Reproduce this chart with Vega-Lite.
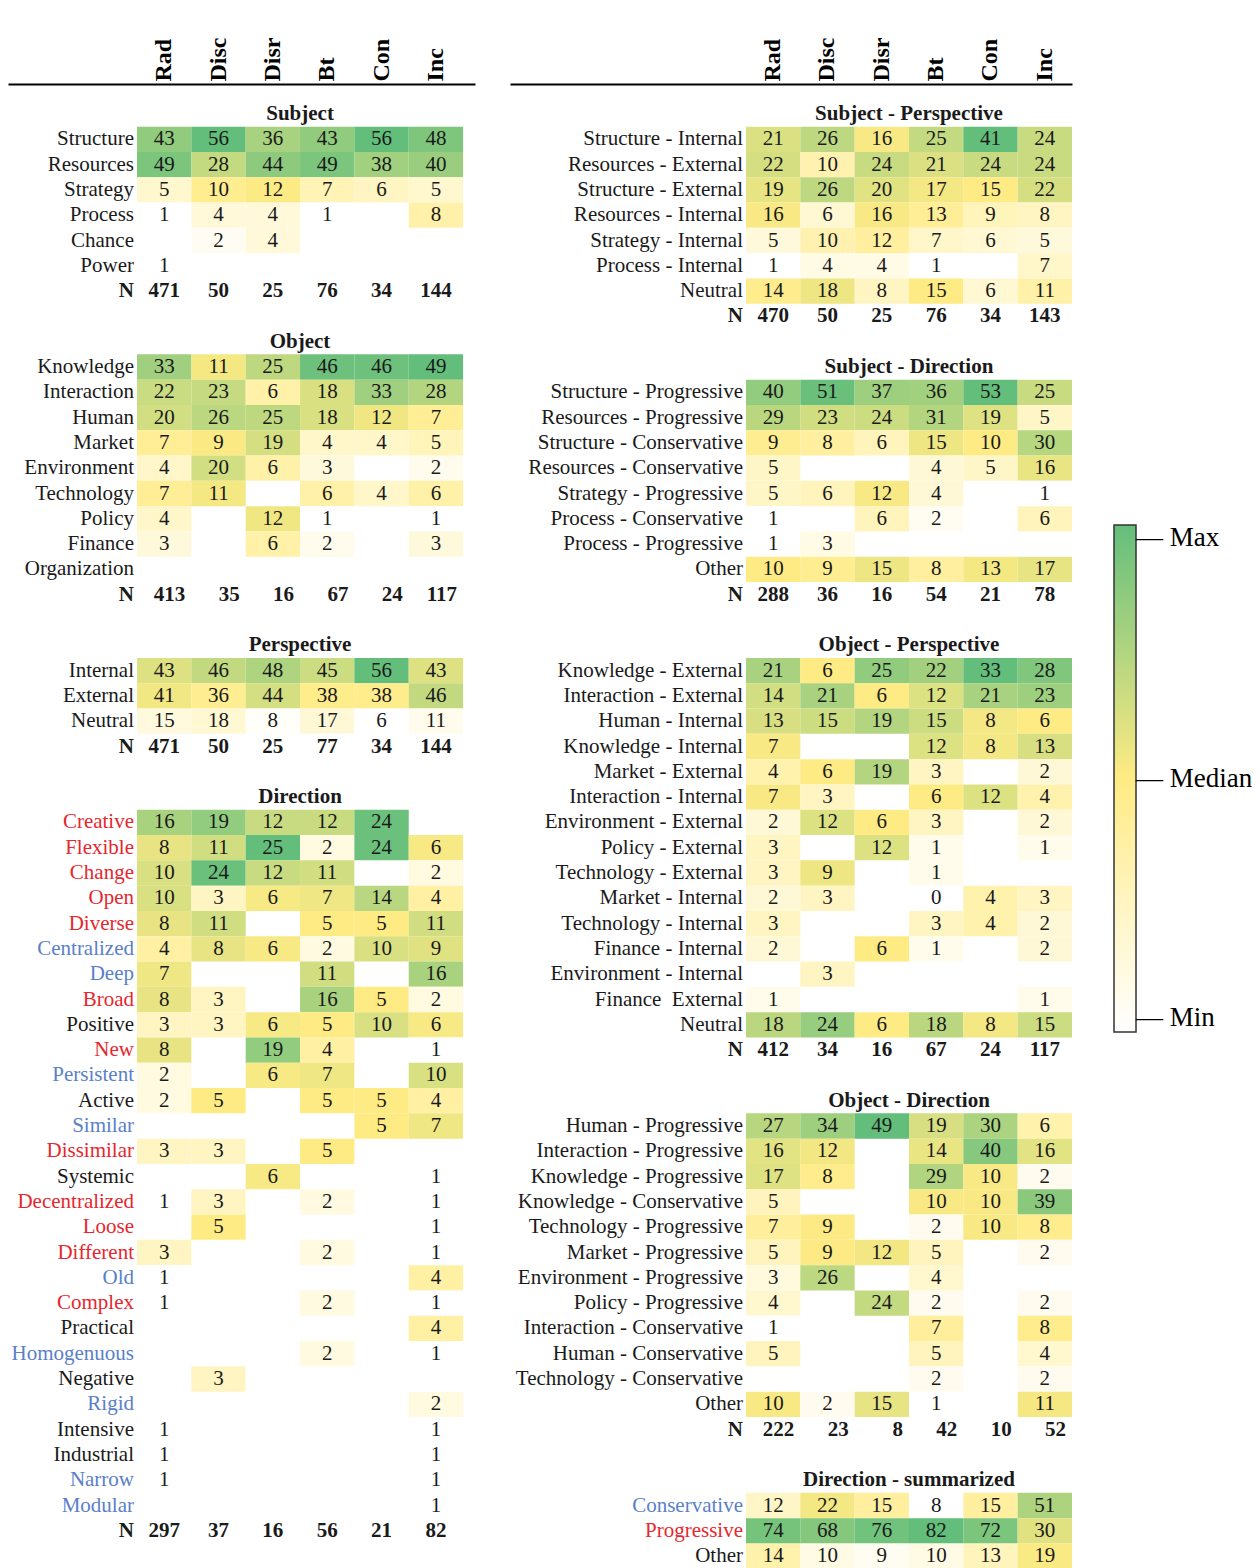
{
"$schema":"https://vega.github.io/schema/vega-lite/v6.json",
"background":"white",
"padding":{"left":8,"top":37,"right":0,"bottom":0},
"spacing":35,
"config":{"view":{"stroke":null},"font":"Liberation Serif","text":{"font":"Liberation Serif"}},
"datasets":{
"tab":[
{"s":"Subject","r":"Structure","Rad":43,"Disc":56,"Disr":36,"Bt":43,"Con":56,"Inc":48},
{"s":"Subject","r":"Resources","Rad":49,"Disc":28,"Disr":44,"Bt":49,"Con":38,"Inc":40},
{"s":"Subject","r":"Strategy","Rad":5,"Disc":10,"Disr":12,"Bt":7,"Con":6,"Inc":5},
{"s":"Subject","r":"Process","Rad":1,"Disc":4,"Disr":4,"Bt":1,"Con":null,"Inc":8},
{"s":"Subject","r":"Chance","Rad":null,"Disc":2,"Disr":4,"Bt":null,"Con":null,"Inc":null},
{"s":"Subject","r":"Power","Rad":1,"Disc":null,"Disr":null,"Bt":null,"Con":null,"Inc":null},
{"s":"Subject","r":"N","Rad":471,"Disc":50,"Disr":25,"Bt":76,"Con":34,"Inc":144},
{"s":"Object","r":"Knowledge","Rad":33,"Disc":11,"Disr":25,"Bt":46,"Con":46,"Inc":49},
{"s":"Object","r":"Interaction","Rad":22,"Disc":23,"Disr":6,"Bt":18,"Con":33,"Inc":28},
{"s":"Object","r":"Human","Rad":20,"Disc":26,"Disr":25,"Bt":18,"Con":12,"Inc":7},
{"s":"Object","r":"Market","Rad":7,"Disc":9,"Disr":19,"Bt":4,"Con":4,"Inc":5},
{"s":"Object","r":"Environment","Rad":4,"Disc":20,"Disr":6,"Bt":3,"Con":null,"Inc":2},
{"s":"Object","r":"Technology","Rad":7,"Disc":11,"Disr":null,"Bt":6,"Con":4,"Inc":6},
{"s":"Object","r":"Policy","Rad":4,"Disc":null,"Disr":12,"Bt":1,"Con":null,"Inc":1},
{"s":"Object","r":"Finance","Rad":3,"Disc":null,"Disr":6,"Bt":2,"Con":null,"Inc":3},
{"s":"Object","r":"Organization","Rad":null,"Disc":null,"Disr":null,"Bt":null,"Con":null,"Inc":null},
{"s":"Object","r":"N","Rad":413,"Disc":35,"Disr":16,"Bt":67,"Con":24,"Inc":117},
{"s":"Perspective","r":"Internal","Rad":43,"Disc":46,"Disr":48,"Bt":45,"Con":56,"Inc":43},
{"s":"Perspective","r":"External","Rad":41,"Disc":36,"Disr":44,"Bt":38,"Con":38,"Inc":46},
{"s":"Perspective","r":"Neutral","Rad":15,"Disc":18,"Disr":8,"Bt":17,"Con":6,"Inc":11},
{"s":"Perspective","r":"N","Rad":471,"Disc":50,"Disr":25,"Bt":77,"Con":34,"Inc":144},
{"s":"Direction","r":"Creative","d":"P","Rad":16,"Disc":19,"Disr":12,"Bt":12,"Con":24,"Inc":null},
{"s":"Direction","r":"Flexible","d":"P","Rad":8,"Disc":11,"Disr":25,"Bt":2,"Con":24,"Inc":6},
{"s":"Direction","r":"Change","d":"P","Rad":10,"Disc":24,"Disr":12,"Bt":11,"Con":null,"Inc":2},
{"s":"Direction","r":"Open","d":"P","Rad":10,"Disc":3,"Disr":6,"Bt":7,"Con":14,"Inc":4},
{"s":"Direction","r":"Diverse","d":"P","Rad":8,"Disc":11,"Disr":null,"Bt":5,"Con":5,"Inc":11},
{"s":"Direction","r":"Centralized","d":"C","Rad":4,"Disc":8,"Disr":6,"Bt":2,"Con":10,"Inc":9},
{"s":"Direction","r":"Deep","d":"C","Rad":7,"Disc":null,"Disr":null,"Bt":11,"Con":null,"Inc":16},
{"s":"Direction","r":"Broad","d":"P","Rad":8,"Disc":3,"Disr":null,"Bt":16,"Con":5,"Inc":2},
{"s":"Direction","r":"Positive","d":"O","Rad":3,"Disc":3,"Disr":6,"Bt":5,"Con":10,"Inc":6},
{"s":"Direction","r":"New","d":"P","Rad":8,"Disc":null,"Disr":19,"Bt":4,"Con":null,"Inc":1},
{"s":"Direction","r":"Persistent","d":"C","Rad":2,"Disc":null,"Disr":6,"Bt":7,"Con":null,"Inc":10},
{"s":"Direction","r":"Active","d":"O","Rad":2,"Disc":5,"Disr":null,"Bt":5,"Con":5,"Inc":4},
{"s":"Direction","r":"Similar","d":"C","Rad":null,"Disc":null,"Disr":null,"Bt":null,"Con":5,"Inc":7},
{"s":"Direction","r":"Dissimilar","d":"P","Rad":3,"Disc":3,"Disr":null,"Bt":5,"Con":null,"Inc":null},
{"s":"Direction","r":"Systemic","d":"O","Rad":null,"Disc":null,"Disr":6,"Bt":null,"Con":null,"Inc":1},
{"s":"Direction","r":"Decentralized","d":"P","Rad":1,"Disc":3,"Disr":null,"Bt":2,"Con":null,"Inc":1},
{"s":"Direction","r":"Loose","d":"P","Rad":null,"Disc":5,"Disr":null,"Bt":null,"Con":null,"Inc":1},
{"s":"Direction","r":"Different","d":"P","Rad":3,"Disc":null,"Disr":null,"Bt":2,"Con":null,"Inc":1},
{"s":"Direction","r":"Old","d":"C","Rad":1,"Disc":null,"Disr":null,"Bt":null,"Con":null,"Inc":4},
{"s":"Direction","r":"Complex","d":"P","Rad":1,"Disc":null,"Disr":null,"Bt":2,"Con":null,"Inc":1},
{"s":"Direction","r":"Practical","d":"O","Rad":null,"Disc":null,"Disr":null,"Bt":null,"Con":null,"Inc":4},
{"s":"Direction","r":"Homogenuous","d":"C","Rad":null,"Disc":null,"Disr":null,"Bt":2,"Con":null,"Inc":1},
{"s":"Direction","r":"Negative","d":"O","Rad":null,"Disc":3,"Disr":null,"Bt":null,"Con":null,"Inc":null},
{"s":"Direction","r":"Rigid","d":"C","Rad":null,"Disc":null,"Disr":null,"Bt":null,"Con":null,"Inc":2},
{"s":"Direction","r":"Intensive","d":"O","Rad":1,"Disc":null,"Disr":null,"Bt":null,"Con":null,"Inc":1},
{"s":"Direction","r":"Industrial","d":"O","Rad":1,"Disc":null,"Disr":null,"Bt":null,"Con":null,"Inc":1},
{"s":"Direction","r":"Narrow","d":"C","Rad":1,"Disc":null,"Disr":null,"Bt":null,"Con":null,"Inc":1},
{"s":"Direction","r":"Modular","d":"C","Rad":null,"Disc":null,"Disr":null,"Bt":null,"Con":null,"Inc":1},
{"s":"Direction","r":"N","Rad":297,"Disc":37,"Disr":16,"Bt":56,"Con":21,"Inc":82},
{"s":"Subject - Perspective","r":"Structure - Internal","Rad":21,"Disc":26,"Disr":16,"Bt":25,"Con":41,"Inc":24},
{"s":"Subject - Perspective","r":"Resources - External","Rad":22,"Disc":10,"Disr":24,"Bt":21,"Con":24,"Inc":24},
{"s":"Subject - Perspective","r":"Structure - External","Rad":19,"Disc":26,"Disr":20,"Bt":17,"Con":15,"Inc":22},
{"s":"Subject - Perspective","r":"Resources - Internal","Rad":16,"Disc":6,"Disr":16,"Bt":13,"Con":9,"Inc":8},
{"s":"Subject - Perspective","r":"Strategy - Internal","Rad":5,"Disc":10,"Disr":12,"Bt":7,"Con":6,"Inc":5},
{"s":"Subject - Perspective","r":"Process - Internal","Rad":1,"Disc":4,"Disr":4,"Bt":1,"Con":null,"Inc":7},
{"s":"Subject - Perspective","r":"Neutral","Rad":14,"Disc":18,"Disr":8,"Bt":15,"Con":6,"Inc":11},
{"s":"Subject - Perspective","r":"N","Rad":470,"Disc":50,"Disr":25,"Bt":76,"Con":34,"Inc":143},
{"s":"Subject - Direction","r":"Structure - Progressive","Rad":40,"Disc":51,"Disr":37,"Bt":36,"Con":53,"Inc":25},
{"s":"Subject - Direction","r":"Resources - Progressive","Rad":29,"Disc":23,"Disr":24,"Bt":31,"Con":19,"Inc":5},
{"s":"Subject - Direction","r":"Structure - Conservative","Rad":9,"Disc":8,"Disr":6,"Bt":15,"Con":10,"Inc":30},
{"s":"Subject - Direction","r":"Resources - Conservative","Rad":5,"Disc":null,"Disr":null,"Bt":4,"Con":5,"Inc":16},
{"s":"Subject - Direction","r":"Strategy - Progressive","Rad":5,"Disc":6,"Disr":12,"Bt":4,"Con":null,"Inc":1},
{"s":"Subject - Direction","r":"Process - Conservative","Rad":1,"Disc":null,"Disr":6,"Bt":2,"Con":null,"Inc":6},
{"s":"Subject - Direction","r":"Process - Progressive","Rad":1,"Disc":3,"Disr":null,"Bt":null,"Con":null,"Inc":null},
{"s":"Subject - Direction","r":"Other","Rad":10,"Disc":9,"Disr":15,"Bt":8,"Con":13,"Inc":17},
{"s":"Subject - Direction","r":"N","Rad":288,"Disc":36,"Disr":16,"Bt":54,"Con":21,"Inc":78},
{"s":"Object - Perspective","r":"Knowledge - External","Rad":21,"Disc":6,"Disr":25,"Bt":22,"Con":33,"Inc":28},
{"s":"Object - Perspective","r":"Interaction - External","Rad":14,"Disc":21,"Disr":6,"Bt":12,"Con":21,"Inc":23},
{"s":"Object - Perspective","r":"Human - Internal","Rad":13,"Disc":15,"Disr":19,"Bt":15,"Con":8,"Inc":6},
{"s":"Object - Perspective","r":"Knowledge - Internal","Rad":7,"Disc":null,"Disr":null,"Bt":12,"Con":8,"Inc":13},
{"s":"Object - Perspective","r":"Market - External","Rad":4,"Disc":6,"Disr":19,"Bt":3,"Con":null,"Inc":2},
{"s":"Object - Perspective","r":"Interaction - Internal","Rad":7,"Disc":3,"Disr":null,"Bt":6,"Con":12,"Inc":4},
{"s":"Object - Perspective","r":"Environment - External","Rad":2,"Disc":12,"Disr":6,"Bt":3,"Con":null,"Inc":2},
{"s":"Object - Perspective","r":"Policy - External","Rad":3,"Disc":null,"Disr":12,"Bt":1,"Con":null,"Inc":1},
{"s":"Object - Perspective","r":"Technology - External","Rad":3,"Disc":9,"Disr":null,"Bt":1,"Con":null,"Inc":null},
{"s":"Object - Perspective","r":"Market - Internal","Rad":2,"Disc":3,"Disr":null,"Bt":0,"Con":4,"Inc":3},
{"s":"Object - Perspective","r":"Technology - Internal","Rad":3,"Disc":null,"Disr":null,"Bt":3,"Con":4,"Inc":2},
{"s":"Object - Perspective","r":"Finance - Internal","Rad":2,"Disc":null,"Disr":6,"Bt":1,"Con":null,"Inc":2},
{"s":"Object - Perspective","r":"Environment - Internal","Rad":null,"Disc":3,"Disr":null,"Bt":null,"Con":null,"Inc":null},
{"s":"Object - Perspective","r":"Finance \u00a0External","Rad":1,"Disc":null,"Disr":null,"Bt":null,"Con":null,"Inc":1},
{"s":"Object - Perspective","r":"Neutral","Rad":18,"Disc":24,"Disr":6,"Bt":18,"Con":8,"Inc":15},
{"s":"Object - Perspective","r":"N","Rad":412,"Disc":34,"Disr":16,"Bt":67,"Con":24,"Inc":117},
{"s":"Object - Direction","r":"Human - Progressive","Rad":27,"Disc":34,"Disr":49,"Bt":19,"Con":30,"Inc":6},
{"s":"Object - Direction","r":"Interaction - Progressive","Rad":16,"Disc":12,"Disr":null,"Bt":14,"Con":40,"Inc":16},
{"s":"Object - Direction","r":"Knowledge - Progressive","Rad":17,"Disc":8,"Disr":null,"Bt":29,"Con":10,"Inc":2},
{"s":"Object - Direction","r":"Knowledge - Conservative","Rad":5,"Disc":null,"Disr":null,"Bt":10,"Con":10,"Inc":39},
{"s":"Object - Direction","r":"Technology - Progressive","Rad":7,"Disc":9,"Disr":null,"Bt":2,"Con":10,"Inc":8},
{"s":"Object - Direction","r":"Market - Progressive","Rad":5,"Disc":9,"Disr":12,"Bt":5,"Con":null,"Inc":2},
{"s":"Object - Direction","r":"Environment - Progressive","Rad":3,"Disc":26,"Disr":null,"Bt":4,"Con":null,"Inc":null},
{"s":"Object - Direction","r":"Policy - Progressive","Rad":4,"Disc":null,"Disr":24,"Bt":2,"Con":null,"Inc":2},
{"s":"Object - Direction","r":"Interaction - Conservative","Rad":1,"Disc":null,"Disr":null,"Bt":7,"Con":null,"Inc":8},
{"s":"Object - Direction","r":"Human - Conservative","Rad":5,"Disc":null,"Disr":null,"Bt":5,"Con":null,"Inc":4},
{"s":"Object - Direction","r":"Technology - Conservative","Rad":null,"Disc":null,"Disr":null,"Bt":2,"Con":null,"Inc":2},
{"s":"Object - Direction","r":"Other","Rad":10,"Disc":2,"Disr":15,"Bt":1,"Con":null,"Inc":11},
{"s":"Object - Direction","r":"N","Rad":222,"Disc":23,"Disr":8,"Bt":42,"Con":10,"Inc":52},
{"s":"Direction - summarized","r":"Conservative","d":"C","Rad":12,"Disc":22,"Disr":15,"Bt":8,"Con":15,"Inc":51},
{"s":"Direction - summarized","r":"Progressive","d":"P","Rad":74,"Disc":68,"Disr":76,"Bt":82,"Con":72,"Inc":30},
{"s":"Direction - summarized","r":"Other","d":"O","Rad":14,"Disc":10,"Disr":9,"Bt":10,"Con":13,"Inc":19}
],
"titles":[
{"s":"Subject"},{"s":"Object"},{"s":"Perspective"},{"s":"Direction"},
{"s":"Subject - Perspective"},{"s":"Subject - Direction"},{"s":"Object - Perspective"},{"s":"Object - Direction"},{"s":"Direction - summarized"}
]
},
"hconcat":[
{
"width":467,"height":1484.75,
"layer":[
{
"data":{"name":"tab"},
"transform":[
{"filter":{"field":"s","oneOf":["Subject","Object","Perspective","Direction"]}},
{"filter":"datum.r !== 'N'"},
{"fold":["Rad","Disc","Disr","Bt","Con","Inc"],"as":["c","v"]},
{"filter":"isValid(datum.v)"},
{"joinaggregate":[{"op":"min","field":"v","as":"lo"},{"op":"median","field":"v","as":"mid"},{"op":"max","field":"v","as":"hi"}],"groupby":["s"]},
{"calculate":"datum.v <= datum.mid ? (datum.mid > datum.lo ? 0.5*(datum.v-datum.lo)/(datum.mid-datum.lo) : 0.5) : (datum.hi > datum.mid ? 0.5+0.5*(datum.v-datum.mid)/(datum.hi-datum.mid) : 1)","as":"t"},
{"calculate":"datum.s + '|' + datum.r","as":"key"}
],
"mark":{"type":"rect"},
"encoding":{
"x":{"field":"c","type":"nominal","scale":{"type":"band","domain":["_a","_b","Rad","Disc","Disr","Bt","Con","Inc"],"paddingInner":0,"paddingOuter":0.297,"align":0.63},
"axis":{"orient":"top","values":["Rad","Disc","Disr","Bt","Con","Inc"],"labelAngle":270,"labelFont":"Liberation Serif","labelFontWeight":"bold","labelFontSize":24,"labelColor":"black","labelAlign":"left","labelBaseline":"middle","labelPadding":3,"ticks":false,"domain":true,"domainColor":"black","domainWidth":2,"title":null,"grid":false,"labelOverlap":false}},
"y":{"field":"key","type":"nominal","axis":null,"scale":{"type":"band","paddingInner":0,"paddingOuter":0.343,"align":1,"domain":["Subject|#","Subject|Structure","Subject|Resources","Subject|Strategy","Subject|Process","Subject|Chance","Subject|Power","Subject|N","_1","Object|#","Object|Knowledge","Object|Interaction","Object|Human","Object|Market","Object|Environment","Object|Technology","Object|Policy","Object|Finance","Object|Organization","Object|N","_2","Perspective|#","Perspective|Internal","Perspective|External","Perspective|Neutral","Perspective|N","_3","Direction|#","Direction|Creative","Direction|Flexible","Direction|Change","Direction|Open","Direction|Diverse","Direction|Centralized","Direction|Deep","Direction|Broad","Direction|Positive","Direction|New","Direction|Persistent","Direction|Active","Direction|Similar","Direction|Dissimilar","Direction|Systemic","Direction|Decentralized","Direction|Loose","Direction|Different","Direction|Old","Direction|Complex","Direction|Practical","Direction|Homogenuous","Direction|Negative","Direction|Rigid","Direction|Intensive","Direction|Industrial","Direction|Narrow","Direction|Modular","Direction|N","_4"]}},
"color":{"field":"t","type":"quantitative","scale":{"domain":[0,0.5,1],"range":["#FFFFFF","#FFEB84","#63BE7B"],"interpolate":"rgb"},
"legend":{"orient":"none","legendX":1106,"legendY":441,"direction":"vertical","title":null,"gradientLength":507,"gradientThickness":22,"gradientStrokeColor":"#333333","gradientStrokeWidth":1.5,"values":[0,0.5,1],"labelExpr":"datum.value >= 1 ? '— Max' : datum.value > 0 ? '— Median' : '— Min'","labelFont":"Liberation Serif","labelFontSize":27,"labelColor":"black","labelOffset":0,"labelBaseline":"middle","labelOverlap":false}}
}
},
{
"data":{"name":"tab"},
"transform":[
{"filter":{"field":"s","oneOf":["Subject","Object","Perspective","Direction"]}},
{"filter":"datum.r !== 'N'"},
{"fold":["Rad","Disc","Disr","Bt","Con","Inc"],"as":["c","v"]},
{"filter":"isValid(datum.v)"},
{"calculate":"datum.s + '|' + datum.r","as":"key"}
],
"mark":{"type":"text","fontSize":21,"color":"#1a1a1a","baseline":"middle","align":"center"},
"encoding":{
"x":{"field":"c","type":"nominal","scale":{"type":"band"}},
"y":{"field":"key","type":"nominal"},
"text":{"field":"v","type":"quantitative"}
}
},
{
"data":{"name":"tab"},
"transform":[
{"filter":{"field":"s","oneOf":["Subject","Perspective","Direction"]}},
{"filter":"datum.r === 'N'"},
{"fold":["Rad","Disc","Disr","Bt","Con","Inc"],"as":["c","v"]},
{"calculate":"datum.s + '|' + datum.r","as":"key"}
],
"mark":{"type":"text","fontSize":21,"fontWeight":"bold","color":"#1a1a1a","baseline":"middle","align":"center"},
"encoding":{
"x":{"field":"c","type":"nominal","scale":{"type":"band"}},
"y":{"field":"key","type":"nominal"},
"text":{"field":"v","type":"quantitative"}
}
},
{
"data":{"name":"tab"},
"transform":[
{"filter":{"field":"s","oneOf":["Object"]}},
{"filter":"datum.r === 'N'"},
{"fold":["Rad","Disc","Disr","Bt","Con","Inc"],"as":["c","v"]},
{"calculate":"datum.s + '|' + datum.r","as":"key"}
],
"mark":{"type":"text","fontSize":21,"fontWeight":"bold","color":"#1a1a1a","baseline":"middle","align":"right","dx":-6},
"encoding":{
"x":{"field":"c","type":"nominal","scale":{"type":"band"},"bandPosition":1},
"y":{"field":"key","type":"nominal"},
"text":{"field":"v","type":"quantitative"}
}
},
{
"data":{"name":"tab"},
"transform":[
{"filter":{"field":"s","oneOf":["Subject","Object","Perspective","Direction"]}},
{"filter":"datum.r !== 'N'"},
{"calculate":"datum.s + '|' + datum.r","as":"key"}
],
"mark":{"type":"text","fontSize":21,"baseline":"middle","align":"right","dx":-3},
"encoding":{
"x":{"datum":"Rad","type":"nominal","bandPosition":0},
"y":{"field":"key","type":"nominal"},
"text":{"field":"r"},
"color":{"condition":[{"test":"datum.d === 'P'","value":"#e8262d"},{"test":"datum.d === 'C'","value":"#5a80c8"}],"value":"#1a1a1a"}
}
},
{
"data":{"name":"tab"},
"transform":[
{"filter":{"field":"s","oneOf":["Subject","Object","Perspective","Direction"]}},
{"filter":"datum.r === 'N'"},
{"calculate":"datum.s + '|' + datum.r","as":"key"}
],
"mark":{"type":"text","fontSize":21,"fontWeight":"bold","color":"#1a1a1a","baseline":"middle","align":"right","dx":-3},
"encoding":{
"x":{"datum":"Rad","type":"nominal","bandPosition":0},
"y":{"field":"key","type":"nominal"},
"text":{"field":"r"}
}
},
{
"data":{"name":"titles"},
"transform":[
{"filter":{"field":"s","oneOf":["Subject","Object","Perspective","Direction"]}},
{"calculate":"datum.s + '|#'","as":"key"}
],
"mark":{"type":"text","fontSize":21,"fontWeight":"bold","color":"#1a1a1a","baseline":"middle","align":"center"},
"encoding":{
"x":{"datum":"Bt","type":"nominal","bandPosition":0},
"y":{"field":"key","type":"nominal"},
"text":{"field":"s"}
}
}
]
},
{
"width":562,"height":1484.75,
"layer":[
{
"data":{"name":"tab"},
"transform":[
{"filter":{"field":"s","oneOf":["Subject - Perspective","Subject - Direction","Object - Perspective","Object - Direction","Direction - summarized"]}},
{"filter":"datum.r !== 'N'"},
{"fold":["Rad","Disc","Disr","Bt","Con","Inc"],"as":["c","v"]},
{"filter":"isValid(datum.v)"},
{"joinaggregate":[{"op":"min","field":"v","as":"lo"},{"op":"median","field":"v","as":"mid"},{"op":"max","field":"v","as":"hi"}],"groupby":["s"]},
{"calculate":"datum.v <= datum.mid ? (datum.mid > datum.lo ? 0.5*(datum.v-datum.lo)/(datum.mid-datum.lo) : 0.5) : (datum.hi > datum.mid ? 0.5+0.5*(datum.v-datum.mid)/(datum.hi-datum.mid) : 1)","as":"t"},
{"calculate":"datum.s + '|' + datum.r","as":"key"}
],
"mark":{"type":"rect"},
"encoding":{
"x":{"field":"c","type":"nominal","scale":{"type":"band","domain":["_a","_b","_c","_d","Rad","Disc","Disr","Bt","Con","Inc"],"paddingInner":0,"paddingOuter":0.1715,"align":1},
"axis":{"orient":"top","values":["Rad","Disc","Disr","Bt","Con","Inc"],"labelAngle":270,"labelFont":"Liberation Serif","labelFontWeight":"bold","labelFontSize":24,"labelColor":"black","labelAlign":"left","labelBaseline":"middle","labelPadding":3,"ticks":false,"domain":true,"domainColor":"black","domainWidth":2,"title":null,"grid":false,"labelOverlap":false}},
"y":{"field":"key","type":"nominal","axis":null,"scale":{"type":"band","paddingInner":0,"paddingOuter":0.343,"align":1,"domain":["Subject - Perspective|#","Subject - Perspective|Structure - Internal","Subject - Perspective|Resources - External","Subject - Perspective|Structure - External","Subject - Perspective|Resources - Internal","Subject - Perspective|Strategy - Internal","Subject - Perspective|Process - Internal","Subject - Perspective|Neutral","Subject - Perspective|N","_1","Subject - Direction|#","Subject - Direction|Structure - Progressive","Subject - Direction|Resources - Progressive","Subject - Direction|Structure - Conservative","Subject - Direction|Resources - Conservative","Subject - Direction|Strategy - Progressive","Subject - Direction|Process - Conservative","Subject - Direction|Process - Progressive","Subject - Direction|Other","Subject - Direction|N","_2","Object - Perspective|#","Object - Perspective|Knowledge - External","Object - Perspective|Interaction - External","Object - Perspective|Human - Internal","Object - Perspective|Knowledge - Internal","Object - Perspective|Market - External","Object - Perspective|Interaction - Internal","Object - Perspective|Environment - External","Object - Perspective|Policy - External","Object - Perspective|Technology - External","Object - Perspective|Market - Internal","Object - Perspective|Technology - Internal","Object - Perspective|Finance - Internal","Object - Perspective|Environment - Internal","Object - Perspective|Finance \u00a0External","Object - Perspective|Neutral","Object - Perspective|N","_3","Object - Direction|#","Object - Direction|Human - Progressive","Object - Direction|Interaction - Progressive","Object - Direction|Knowledge - Progressive","Object - Direction|Knowledge - Conservative","Object - Direction|Technology - Progressive","Object - Direction|Market - Progressive","Object - Direction|Environment - Progressive","Object - Direction|Policy - Progressive","Object - Direction|Interaction - Conservative","Object - Direction|Human - Conservative","Object - Direction|Technology - Conservative","Object - Direction|Other","Object - Direction|N","_4","Direction - summarized|#","Direction - summarized|Conservative","Direction - summarized|Progressive","Direction - summarized|Other"]}},
"color":{"field":"t","type":"quantitative","scale":{"domain":[0,0.5,1],"range":["#FFFFFF","#FFEB84","#63BE7B"],"interpolate":"rgb"},
"legend":{"orient":"none","legendX":1106,"legendY":441,"direction":"vertical","title":null,"gradientLength":507,"gradientThickness":22,"gradientStrokeColor":"#333333","gradientStrokeWidth":1.5,"values":[0,0.5,1],"labelExpr":"datum.value >= 1 ? '— Max' : datum.value > 0 ? '— Median' : '— Min'","labelFont":"Liberation Serif","labelFontSize":27,"labelColor":"black","labelOffset":0,"labelBaseline":"middle","labelOverlap":false}}
}
},
{
"data":{"name":"tab"},
"transform":[
{"filter":{"field":"s","oneOf":["Subject - Perspective","Subject - Direction","Object - Perspective","Object - Direction","Direction - summarized"]}},
{"filter":"datum.r !== 'N'"},
{"fold":["Rad","Disc","Disr","Bt","Con","Inc"],"as":["c","v"]},
{"filter":"isValid(datum.v)"},
{"calculate":"datum.s + '|' + datum.r","as":"key"}
],
"mark":{"type":"text","fontSize":21,"color":"#1a1a1a","baseline":"middle","align":"center"},
"encoding":{
"x":{"field":"c","type":"nominal","scale":{"type":"band"}},
"y":{"field":"key","type":"nominal"},
"text":{"field":"v","type":"quantitative"}
}
},
{
"data":{"name":"tab"},
"transform":[
{"filter":{"field":"s","oneOf":["Subject - Perspective","Subject - Direction","Object - Perspective","Direction - summarized"]}},
{"filter":"datum.r === 'N'"},
{"fold":["Rad","Disc","Disr","Bt","Con","Inc"],"as":["c","v"]},
{"calculate":"datum.s + '|' + datum.r","as":"key"}
],
"mark":{"type":"text","fontSize":21,"fontWeight":"bold","color":"#1a1a1a","baseline":"middle","align":"center"},
"encoding":{
"x":{"field":"c","type":"nominal","scale":{"type":"band"}},
"y":{"field":"key","type":"nominal"},
"text":{"field":"v","type":"quantitative"}
}
},
{
"data":{"name":"tab"},
"transform":[
{"filter":{"field":"s","oneOf":["Object - Direction"]}},
{"filter":"datum.r === 'N'"},
{"fold":["Rad","Disc","Disr","Bt","Con","Inc"],"as":["c","v"]},
{"calculate":"datum.s + '|' + datum.r","as":"key"}
],
"mark":{"type":"text","fontSize":21,"fontWeight":"bold","color":"#1a1a1a","baseline":"middle","align":"right","dx":-6},
"encoding":{
"x":{"field":"c","type":"nominal","scale":{"type":"band"},"bandPosition":1},
"y":{"field":"key","type":"nominal"},
"text":{"field":"v","type":"quantitative"}
}
},
{
"data":{"name":"tab"},
"transform":[
{"filter":{"field":"s","oneOf":["Subject - Perspective","Subject - Direction","Object - Perspective","Object - Direction","Direction - summarized"]}},
{"filter":"datum.r !== 'N'"},
{"calculate":"datum.s + '|' + datum.r","as":"key"}
],
"mark":{"type":"text","fontSize":21,"baseline":"middle","align":"right","dx":-3},
"encoding":{
"x":{"datum":"Rad","type":"nominal","bandPosition":0},
"y":{"field":"key","type":"nominal"},
"text":{"field":"r"},
"color":{"condition":[{"test":"datum.d === 'P'","value":"#e8262d"},{"test":"datum.d === 'C'","value":"#5a80c8"}],"value":"#1a1a1a"}
}
},
{
"data":{"name":"tab"},
"transform":[
{"filter":{"field":"s","oneOf":["Subject - Perspective","Subject - Direction","Object - Perspective","Object - Direction","Direction - summarized"]}},
{"filter":"datum.r === 'N'"},
{"calculate":"datum.s + '|' + datum.r","as":"key"}
],
"mark":{"type":"text","fontSize":21,"fontWeight":"bold","color":"#1a1a1a","baseline":"middle","align":"right","dx":-3},
"encoding":{
"x":{"datum":"Rad","type":"nominal","bandPosition":0},
"y":{"field":"key","type":"nominal"},
"text":{"field":"r"}
}
},
{
"data":{"name":"titles"},
"transform":[
{"filter":{"field":"s","oneOf":["Subject - Perspective","Subject - Direction","Object - Perspective","Object - Direction","Direction - summarized"]}},
{"calculate":"datum.s + '|#'","as":"key"}
],
"mark":{"type":"text","fontSize":21,"fontWeight":"bold","color":"#1a1a1a","baseline":"middle","align":"center"},
"encoding":{
"x":{"datum":"Bt","type":"nominal","bandPosition":0},
"y":{"field":"key","type":"nominal"},
"text":{"field":"s"}
}
}
]
}
]
}
